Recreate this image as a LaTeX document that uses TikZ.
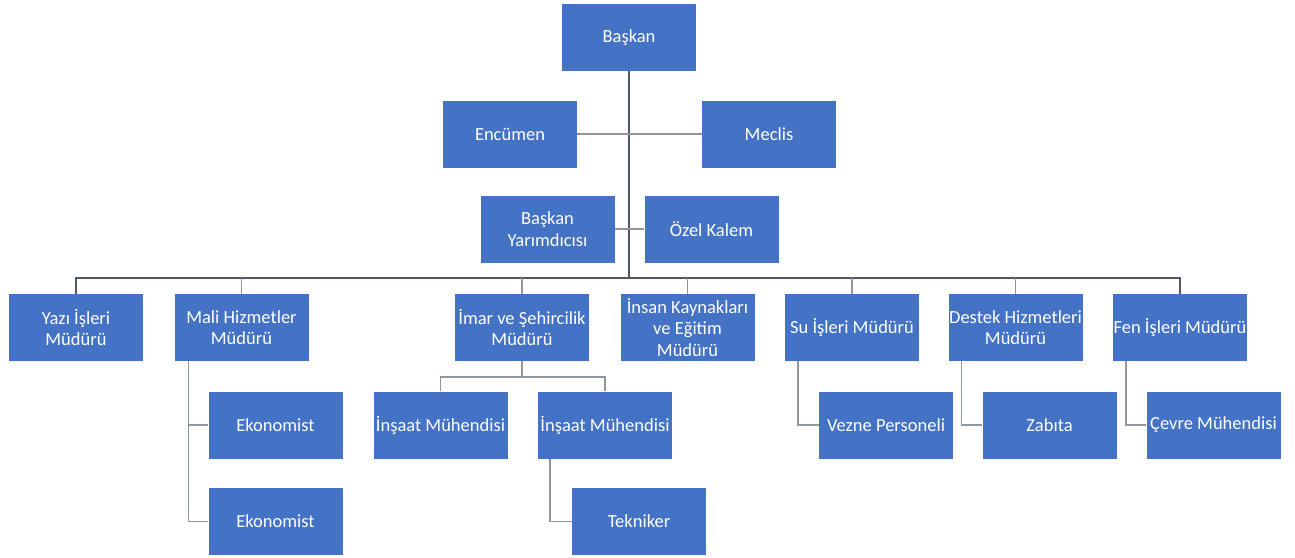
\documentclass[tikz,border=0pt]{standalone}
\usepackage{fontspec}
\setmainfont{Carlito}
\definecolor{boxblue}{HTML}{4472C4}
\definecolor{darkline}{HTML}{4F5866}
\definecolor{lightline}{HTML}{8E979F}
\begin{document}
\begin{tikzpicture}[x=1pt,y=-1pt,
  box/.style={fill=boxblue, text=white, minimum width=134pt, minimum height=67pt,
    inner sep=0pt, align=center, font=\fontsize{18.5}{21.5}\selectfont},
  trunk/.style={draw=darkline, line width=2pt},
  link/.style={draw=lightline, line width=1.6pt}]
\useasboundingbox (0,0) rectangle (1295,557);
% top
\node[box] (baskan) at (629,37.5) {Başkan};
\node[box] (encumen) at (510,134) {Encümen};
\node[box] (meclis) at (769,134) {Meclis};
\node[box] (yard) at (547.5,229) {Başkan\\Yarımdıcısı};
\node[box] (ozel) at (711.5,229) {Özel Kalem};
% level 1
\node[box] (yazi) at (76,327.5) {Yazı İşleri\\Müdürü};
\node[box] (mali) at (241.5,327.5) {Mali Hizmetler\\Müdürü};
\node[box] (imar) at (522,327.5) {İmar ve Şehircilik\\Müdürü};
\node[box] (insan) at (687.5,327.5) {İnsan Kaynakları\\ve Eğitim\\Müdürü};
\node[box] (su) at (852,327.5) {Su İşleri Müdürü};
\node[box] (destek) at (1015.5,327.5) {Destek Hizmetleri\\Müdürü};
\node[box] (fen) at (1180,327.5) {Fen İşleri Müdürü};
% level 2
\node[box] (eko1) at (275.5,425) {Ekonomist};
\node[box] (ins1) at (440.5,425) {İnşaat Mühendisi};
\node[box] (ins2) at (605,425) {İnşaat Mühendisi};
\node[box] (vezne) at (886,425) {Vezne Personeli};
\node[box] (zabita) at (1049.5,425) {Zabıta};
\node[box] (cevre) at (1213.5,425) {Çevre Mühendisi};
% level 3
\node[box] (eko2) at (275.5,521.5) {Ekonomist};
\node[box] (tekniker) at (639,521.5) {Tekniker};
% connectors
\coordinate (bus) at (629,278);
\coordinate (ibus) at (522,377);
\draw[trunk] (baskan.south) -- (bus);
\draw[link] (encumen.east) -- (meclis.west);
\draw[link] (yard.east) -- (ozel.west);
\draw[trunk] (yazi.north) -- (yazi.north |- bus) -- (fen.north |- bus) -- (fen.north);
\foreach \n in {mali,imar,insan,su,destek}
  \draw[link] (\n.north) -- (\n.north |- bus);
\draw[link] ([xshift=14pt]mali.south west) |- (eko1.west);
\draw[link] ([xshift=14pt]mali.south west) |- (eko2.west);
\draw[link] (imar.south) -- (ibus);
\draw[link] (ins1.north) -- (ins1.north |- ibus) -- (ins2.north |- ibus) -- (ins2.north);
\draw[link] ([xshift=12pt]ins2.south west) |- (tekniker.west);
\draw[link] ([xshift=13pt]su.south west) |- (vezne.west);
\draw[link] ([xshift=13pt]destek.south west) |- (zabita.west);
\draw[link] ([xshift=13pt]fen.south west) |- (cevre.west);
\end{tikzpicture}
\end{document}
